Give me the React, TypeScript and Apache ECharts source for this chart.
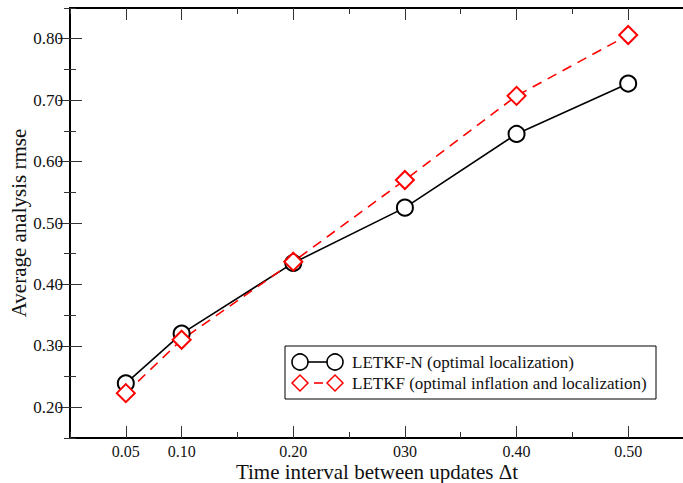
import React, { useEffect, useRef } from "react";
import * as echarts from "echarts";

const xValues = [0.05, 0.1, 0.2, 0.3, 0.4, 0.5];
const xTickLabels = ["0.05", "0.10", "0.20", "030", "0.40", "0.50"];
const yTickValues = [0.2, 0.3, 0.4, 0.5, 0.6, 0.7, 0.8];
const yTickLabels = ["0.20", "0.30", "0.40", "0.50", "0.60", "0.70", "0.80"];
const letkfN = [0.239, 0.32, 0.435, 0.525, 0.645, 0.727];
const letkf = [0.223, 0.31, 0.437, 0.57, 0.707, 0.806];
const seriesNames = ["LETKF-N (optimal localization)", "LETKF (optimal inflation and localization)"];

const FONT = "'Liberation Serif', 'DejaVu Serif', serif";

export default function App() {
  const ref = useRef<HTMLDivElement>(null);
  useEffect(() => {
    if (!ref.current) return;
    const chart = echarts.init(ref.current, null, { renderer: "svg" });
    const axisLine = { show: true, lineStyle: { color: "#000", width: 2 } };
    const fmtX = (v: number) => {
      const i = xValues.findIndex((x) => Math.abs(x - v) < 1e-6);
      return i >= 0 ? xTickLabels[i] : "";
    };
    const fmtY = (v: number) => {
      const i = yTickValues.findIndex((x) => Math.abs(x - v) < 1e-6);
      return i >= 0 ? yTickLabels[i] : "";
    };
    const labelStyle = {
      color: "#111",
      fontSize: 17,
      fontFamily: FONT,
    };
    const majorX = (pos: "top" | "bottom", labels: boolean) => ({
      type: "value",
      gridIndex: 0,
      position: pos,
      min: 0,
      max: 0.55,
      interval: 0.05,
      axisLine,
      splitLine: { show: false },
      axisTick: { show: true, inside: true, length: 12, customValues: xValues, lineStyle: { color: "#333", width: 1 } },
      axisLabel: {
        show: labels,
        interval: 0,
        hideOverlap: false,
        formatter: fmtX,
        margin: 5,
        ...labelStyle,
        fontSize: 16,
      },
    });
    const minorX = (pos: "top" | "bottom") => ({
      type: "value",
      gridIndex: 1,
      position: pos,
      min: 0,
      max: 0.55,
      interval: 0.05,
      axisLine: { show: false },
      splitLine: { show: false },
      axisTick: { show: true, inside: true, length: 6, lineStyle: { color: "#333", width: 1 } },
      axisLabel: { show: false },
    });
    const majorY = (pos: "left" | "right", labels: boolean) => ({
      type: "value",
      gridIndex: 0,
      position: pos,
      min: 0.15,
      max: 0.85,
      interval: 0.05,
      axisLine,
      splitLine: { show: false },
      axisTick: { show: true, inside: true, length: 12, customValues: yTickValues, lineStyle: { color: "#333", width: 1 } },
      axisLabel: {
        show: labels,
        interval: 0,
        hideOverlap: false,
        formatter: fmtY,
        margin: 7,
        ...labelStyle,
      },
    });
    const minorY = (pos: "left" | "right") => ({
      type: "value",
      gridIndex: 1,
      position: pos,
      min: 0.15,
      max: 0.85,
      interval: 0.05,
      axisLine: { show: false },
      splitLine: { show: false },
      axisTick: { show: true, inside: true, length: 6, lineStyle: { color: "#333", width: 1 } },
      axisLabel: { show: false },
    });

    const xMain: any = majorX("bottom", true);
    xMain.name = "Time interval between updates \u0394t";
    xMain.nameLocation = "middle";
    xMain.nameGap = 23;
    xMain.nameMoveOverlap = false;
    xMain.nameTextStyle = { fontSize: 21, fontFamily: FONT, color: "#111" };
    const yMain: any = majorY("left", true);
    yMain.name = "Average analysis rmse";
    yMain.nameLocation = "middle";
    yMain.nameGap = 41;
    yMain.nameMoveOverlap = false;
    yMain.nameTextStyle = { fontSize: 21, fontFamily: FONT, color: "#111" };

    const lx = 285, ly = 346, r1 = 362, r2 = 383, s1 = 300, s2 = 335, tx = 352;
    const diamond = (cx: number, cy: number) => ({
      type: "polygon",
      shape: { points: [[cx, cy - 8], [cx + 8, cy], [cx, cy + 8], [cx - 8, cy]] },
      style: { fill: "none", stroke: "#ff0000", lineWidth: 1.5 },
    });
    const gridBox = { left: 70, top: 8, bottom: 45, right: 6, containLabel: false, outerBoundsMode: "none" };

    chart.setOption({
      animation: false,
      backgroundColor: "#fff",
      grid: [gridBox, { ...gridBox }],
      xAxis: [xMain, majorX("top", false), minorX("bottom"), minorX("top")],
      yAxis: [yMain, majorY("right", false), minorY("left"), minorY("right")],
      series: [
        {
          name: seriesNames[0],
          type: "line",
          xAxisIndex: 0,
          yAxisIndex: 0,
          data: xValues.map((x, i) => [x, letkfN[i]]),
          symbol: "emptyCircle",
          symbolSize: 16,
          lineStyle: { color: "#000", width: 1.6 },
          itemStyle: { color: "#000", borderWidth: 1.6 },
        },
        {
          name: seriesNames[1],
          type: "line",
          xAxisIndex: 0,
          yAxisIndex: 0,
          data: xValues.map((x, i) => [x, letkf[i]]),
          symbol: "emptyDiamond",
          symbolSize: [18, 18],
          lineStyle: { color: "#ff0000", width: 1.6, type: [10, 7] },
          itemStyle: { color: "#ff0000", borderWidth: 1.6 },
        },
      ],
      graphic: [
        {
          type: "rect",
          shape: { x: lx, y: ly, width: 371, height: 53 },
          style: { fill: "#fff", stroke: "#000", lineWidth: 1 },
          z: 100,
        },
        { type: "line", shape: { x1: s1 + 8, y1: r1, x2: s2 - 8, y2: r1 }, style: { stroke: "#000", lineWidth: 1.6 }, z: 101 },
        { type: "circle", shape: { cx: s1, cy: r1, r: 8 }, style: { fill: "none", stroke: "#000", lineWidth: 1.6 }, z: 101 },
        { type: "circle", shape: { cx: s2, cy: r1, r: 8 }, style: { fill: "none", stroke: "#000", lineWidth: 1.6 }, z: 101 },
        { type: "line", shape: { x1: 314, y1: r2, x2: 323, y2: r2 }, style: { stroke: "#ff0000", lineWidth: 1.6 }, z: 101 },
        { ...diamond(s1, r2), z: 101 },
        { ...diamond(s2, r2), z: 101 },
        {
          type: "text",
          x: tx,
          y: r1,
          style: { text: seriesNames[0], fontSize: 17, fontFamily: FONT, fill: "#111", verticalAlign: "middle" },
          z: 101,
        },
        {
          type: "text",
          x: tx,
          y: r2,
          style: { text: seriesNames[1], fontSize: 17, fontFamily: FONT, fill: "#111", verticalAlign: "middle" },
          z: 101,
        },
      ],
    });
    return () => chart.dispose();
  }, []);
  return (
    <div style={{ position: "fixed", left: 0, top: 0, width: 683, height: 483, overflow: "hidden", background: "#fff" }}>
      <div ref={ref} style={{ width: 690, height: 483 }} />
    </div>
  );
}
